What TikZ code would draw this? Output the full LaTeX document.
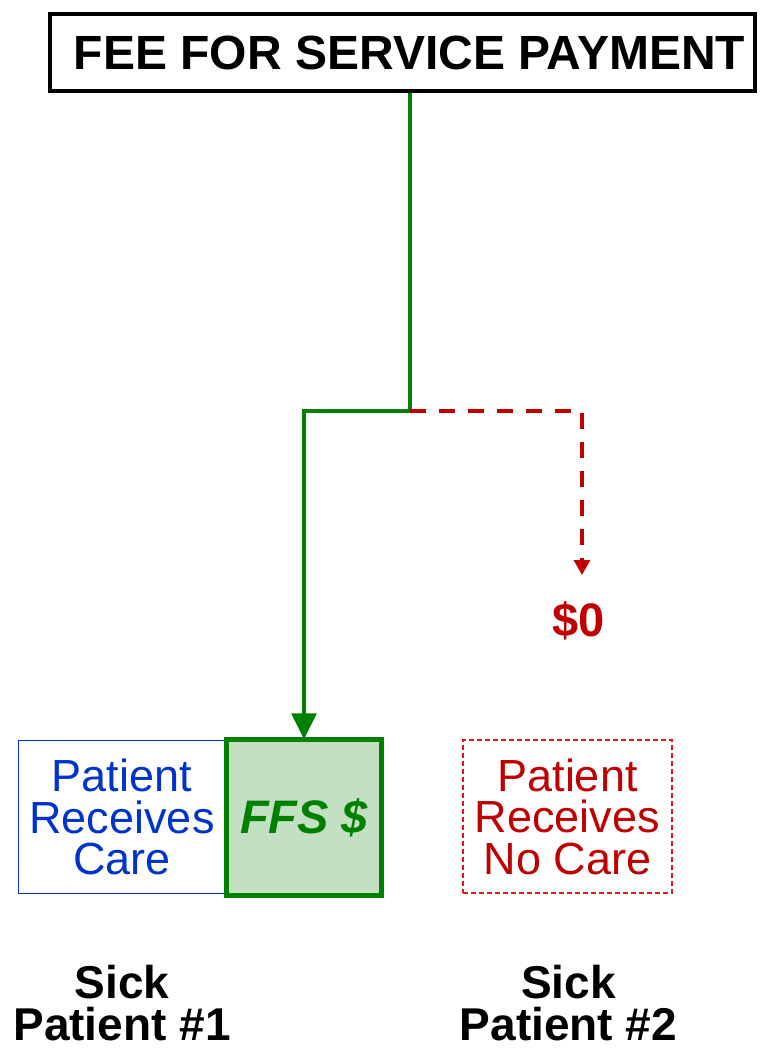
\documentclass[tikz,border=0pt]{standalone}
\usepackage{fontspec}
\setmainfont{Liberation Sans}
\usetikzlibrary{arrows.meta,positioning}
\definecolor{ffsgreen}{RGB}{0,128,0}
\definecolor{ffsfill}{RGB}{195,224,195}
\definecolor{careblue}{RGB}{0,51,204}
\definecolor{darkred}{RGB}{192,0,0}
\definecolor{brightred}{RGB}{235,20,20}
\tikzset{
  titlebox/.style={draw=black,line width=4pt,minimum width=705pt,minimum height=77pt,inner sep=0pt,
    font=\fontsize{48}{50}\selectfont\bfseries},
  carebox/.style={draw=careblue,line width=1.5pt,minimum width=207.5pt,minimum height=153pt,inner sep=0pt,
    align=center,text=careblue,font=\fontsize{45}{41.5}\selectfont},
  ffsbox/.style={draw=ffsgreen,fill=ffsfill,line width=4.5pt,minimum width=155pt,minimum height=156pt,inner sep=0pt,
    text=ffsgreen,font=\fontsize{47}{50}\selectfont\bfseries\itshape},
  nocarebox/.style={draw=brightred,dash pattern=on 5pt off 3pt,line width=1.5pt,minimum width=209pt,minimum height=153pt,inner sep=0pt,
    align=center,text=darkred,font=\fontsize{45}{41.5}\selectfont},
  patientlabel/.style={align=center,inner sep=0pt,font=\fontsize{46}{42}\selectfont\bfseries},
  greenflow/.style={draw=ffsgreen,line width=3.2pt},
  redflow/.style={draw=darkred,line width=3.3pt,dash pattern=on 16pt off 13pt},
}
\begin{document}
\begin{tikzpicture}[x=1pt,y=-1pt]
\useasboundingbox (0,0) rectangle (771,1050);
\node[titlebox] (title) at (402.5,52.5) {\hspace*{14pt}FEE FOR SERVICE PAYMENT};
\coordinate (split) at (410,411);
\node[carebox] (care) at (122,817) {Patient\\Receives\\Care};
\node[ffsbox] (ffs) at (304,817.5) {FFS \$};
\node[nocarebox] (nocare) at (567.5,816.5) {Patient\\Receives\\No Care};
\coordinate (zerotip) at (582,575);
\node[text=darkred,inner sep=0pt,font=\fontsize{47}{50}\selectfont\bfseries] (zero) at (579,621) {\$0};
\node[patientlabel] (p1) at (122,1003) {Sick\\Patient \#1};
\node[patientlabel] (p2) at (568.5,1003) {Sick\\Patient \#2};
\draw[greenflow,-{Triangle[width=25pt,length=26pt]}] (title.south -| split) -- (split) -- (split -| ffs.north) -- ([yshift=-2pt]ffs.north);
\draw[redflow,-{Triangle[width=16pt,length=15pt]}] (split) -| (zerotip);
\end{tikzpicture}
\end{document}
